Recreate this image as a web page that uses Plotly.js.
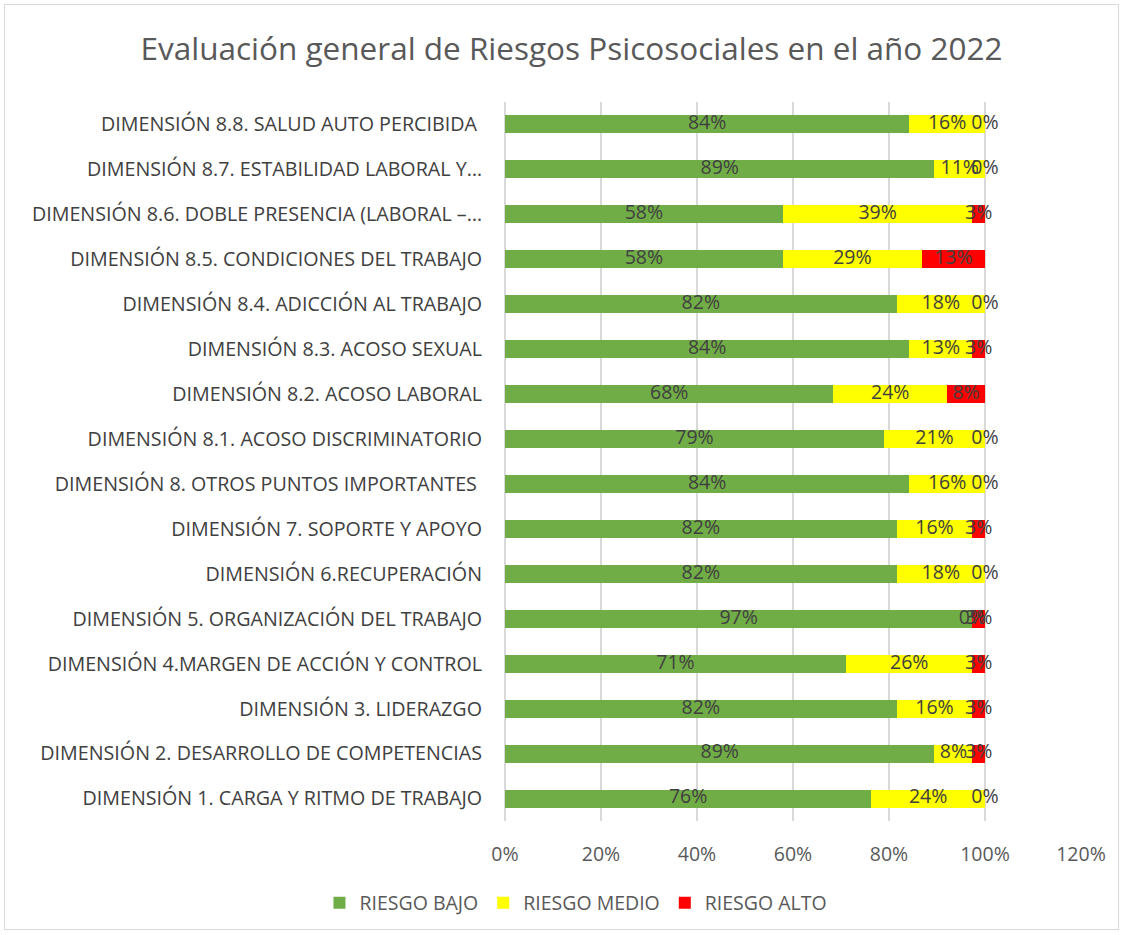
<!DOCTYPE html>
<html>
<head>
<meta charset="utf-8">
<script src="https://cdn.plot.ly/plotly-3.0.1.min.js"></script>
<style>
  html, body { margin: 0; padding: 0; background: #fff; }
  #frame { position: absolute; left: 4px; top: 4px; width: 1115px; height: 926px; border: 1px solid #d9d9d9; box-sizing: border-box; }
  #chart { position: absolute; left: 0; top: 0; width: 1113px; height: 924px; }
</style>
</head>
<body>
<div id="frame"><div id="chart"></div></div>
<script>
const categories = [
  "DIMENSIÓN 8.8. SALUD AUTO PERCIBIDA ",
  "DIMENSIÓN 8.7. ESTABILIDAD LABORAL Y…",
  "DIMENSIÓN 8.6. DOBLE PRESENCIA (LABORAL –…",
  "DIMENSIÓN 8.5. CONDICIONES DEL TRABAJO",
  "DIMENSIÓN 8.4. ADICCIÓN AL TRABAJO",
  "DIMENSIÓN 8.3. ACOSO SEXUAL",
  "DIMENSIÓN 8.2. ACOSO LABORAL",
  "DIMENSIÓN 8.1. ACOSO DISCRIMINATORIO",
  "DIMENSIÓN 8. OTROS PUNTOS IMPORTANTES ",
  "DIMENSIÓN 7. SOPORTE Y APOYO",
  "DIMENSIÓN 6.RECUPERACIÓN",
  "DIMENSIÓN 5. ORGANIZACIÓN DEL TRABAJO",
  "DIMENSIÓN 4.MARGEN DE ACCIÓN Y CONTROL",
  "DIMENSIÓN 3. LIDERAZGO",
  "DIMENSIÓN 2. DESARROLLO DE COMPETENCIAS",
  "DIMENSIÓN 1. CARGA Y RITMO DE TRABAJO"
];
const riesgoBajo  = [84.21, 89.47, 57.89, 57.89, 81.58, 84.21, 68.42, 78.95, 84.21, 81.58, 81.58, 97.37, 71.05, 81.58, 89.47, 76.32];
const riesgoMedio = [15.79, 10.53, 39.47, 28.95, 18.42, 13.16, 23.68, 21.05, 15.79, 15.79, 18.42, 0.00, 26.32, 15.79, 7.89, 23.68];
const riesgoAlto  = [0.00, 0.00, 2.63, 13.16, 0.00, 2.63, 7.89, 0.00, 0.00, 2.63, 0.00, 2.63, 2.63, 2.63, 2.63, 0.00];
const seriesNames = ["RIESGO BAJO", "RIESGO MEDIO", "RIESGO ALTO"];
const seriesColors = ["#70ad47", "#ffff00", "#ff0000"];
const xTicks = [0, 20, 40, 60, 80, 100, 120];

const FONT = "'Open Sans', sans-serif";
const series = [riesgoBajo, riesgoMedio, riesgoAlto];
const traces = [];
const bases = categories.map(() => 0);
const labelTraces = [];
series.forEach((vals, i) => {
  traces.push({
    type: "bar", orientation: "h", name: seriesNames[i],
    y: categories, x: vals,
    marker: { color: seriesColors[i], line: { width: 0 } },
    hoverinfo: "skip"
  });
  labelTraces.push({
    type: "scatter", mode: "text", showlegend: false, hoverinfo: "skip",
    y: categories,
    x: vals.map((v, k) => bases[k] + v / 2),
    text: vals.map(v => Math.round(v) + "%"),
    textposition: "middle center",
    textfont: { family: FONT, size: 19.5, color: "#404040" },
    cliponaxis: false
  });
  vals.forEach((v, k) => { bases[k] += v; });
});

const layout = {
  width: 1113, height: 924,
  paper_bgcolor: "#ffffff", plot_bgcolor: "#ffffff",
  margin: { l: 500, r: 37, t: 97, b: 108, autoexpand: false },
  barmode: "stack", bargap: 0.6,
  title: {
    text: "Evaluación general de Riesgos Psicosociales en el año 2022",
    font: { family: FONT, size: 31.5, color: "#595959" },
    x: 0.509, xanchor: "center", xref: "container",
    y: 1 - 44 / 924, yanchor: "middle", yref: "container"
  },
  xaxis: {
    range: [0, 120], tickvals: xTicks, ticktext: xTicks.map(t => t + "%"),
    showgrid: true, gridcolor: "#d9d9d9", gridwidth: 2,
    zeroline: true, zerolinecolor: "#d9d9d9", zerolinewidth: 2,
    showline: false, ticks: "", ticklabelstandoff: 19, automargin: false,
    tickfont: { family: FONT, size: 19.5, color: "#595959" },
    fixedrange: true
  },
  yaxis: {
    type: "category", range: [15.5, -0.5], autorange: false,
    showgrid: false, zeroline: false, showline: false, ticks: "",
    ticklabelstandoff: 22, automargin: false,
    tickfont: { family: FONT, size: 19.7, color: "#404040" },
    fixedrange: true
  },
  legend: {
    orientation: "h", traceorder: "normal",
    x: 0.513, xanchor: "center", xref: "container",
    y: 1 - 898 / 924, yanchor: "middle", yref: "container",
    font: { family: FONT, size: 19.5, color: "#595959" },
    itemwidth: 30
  },
  showlegend: true
};

Plotly.newPlot("chart", traces.concat(labelTraces), layout, { displayModeBar: false, staticPlot: true });
</script>
</body>
</html>
